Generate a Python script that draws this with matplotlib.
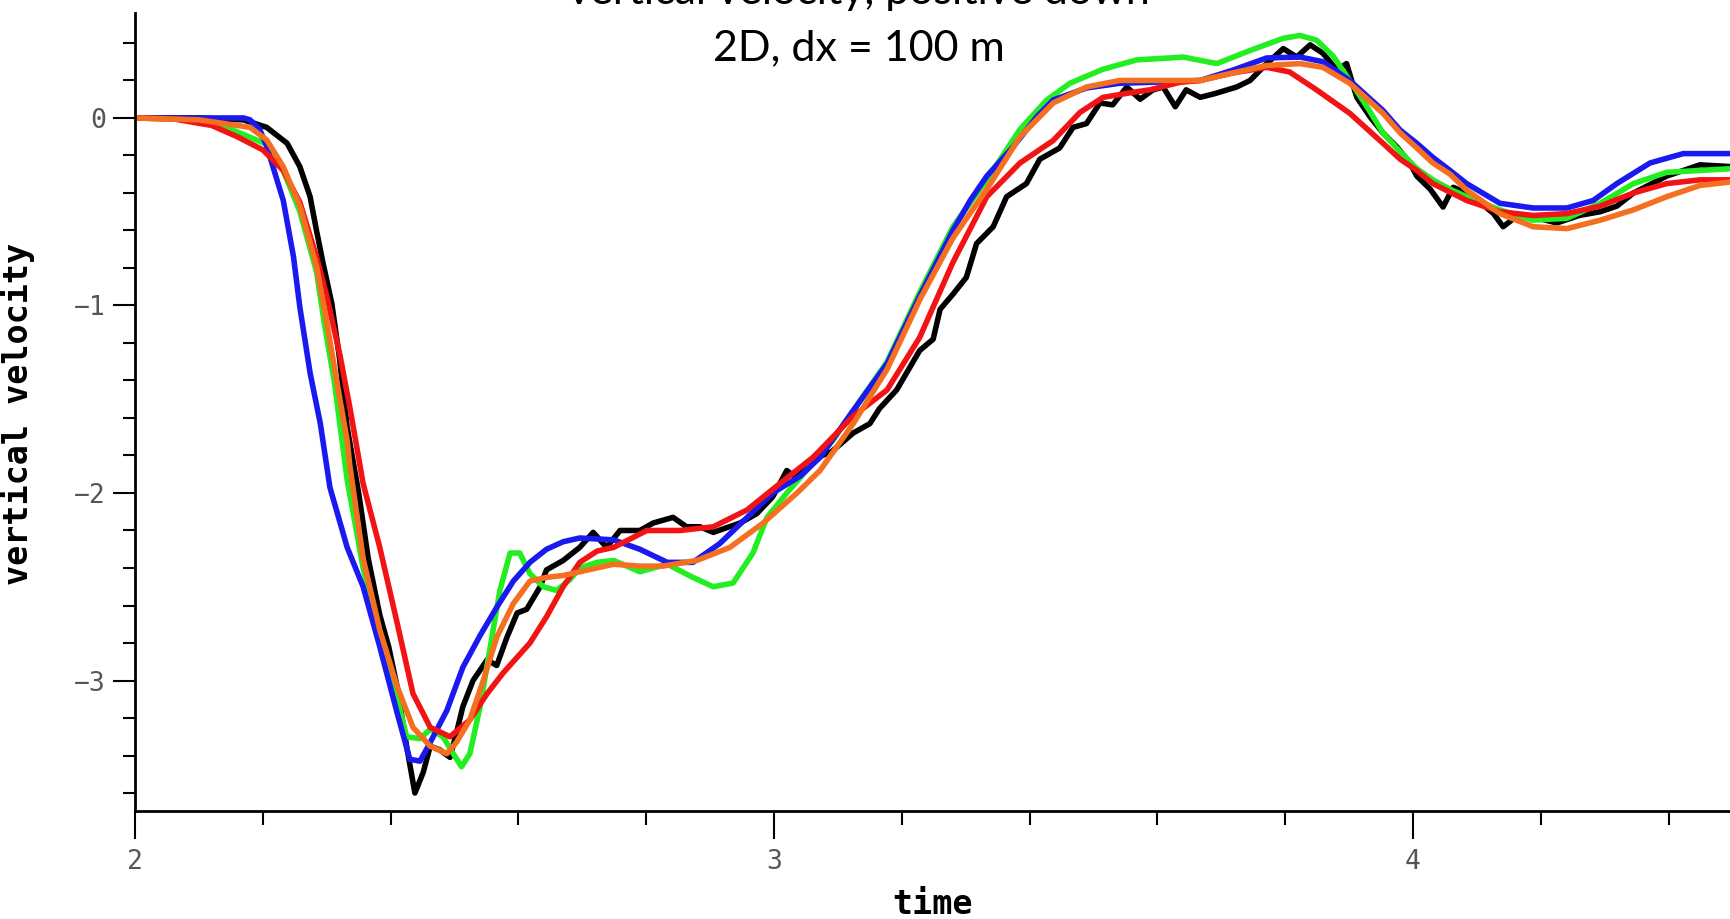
import matplotlib
matplotlib.use("Agg")
import matplotlib.pyplot as plt
from matplotlib.ticker import MultipleLocator

# black: reference (noisy)
t_black = [2.0, 2.10, 2.17, 2.206, 2.238, 2.258, 2.274, 2.284, 2.294, 2.308, 2.32, 2.332, 2.35, 2.365,
           2.383, 2.397, 2.41, 2.425, 2.438, 2.451, 2.462, 2.477, 2.493, 2.503, 2.513, 2.529, 2.551,
           2.566, 2.582, 2.598, 2.613, 2.634, 2.644, 2.670, 2.696, 2.717, 2.738, 2.759, 2.790, 2.811,
           2.842, 2.863, 2.884, 2.905, 2.947, 2.973, 2.998, 3.02, 3.035, 3.061, 3.09, 3.124, 3.150,
           3.165, 3.192, 3.228, 3.249, 3.260, 3.280, 3.301, 3.317, 3.343, 3.364, 3.395, 3.416, 3.447,
           3.468, 3.489, 3.510, 3.530, 3.552, 3.573, 3.593, 3.609, 3.628, 3.645, 3.667, 3.69, 3.724,
           3.745, 3.771, 3.797, 3.818, 3.839, 3.859, 3.881, 3.896, 3.912, 3.933, 3.953, 3.975, 3.995,
           4.006, 4.027, 4.047, 4.063, 4.084, 4.105, 4.126, 4.141, 4.162, 4.19, 4.225, 4.26, 4.293,
           4.319, 4.345, 4.397, 4.449, 4.5]
v_black = [0.0, 0.0, -0.01, -0.05, -0.135, -0.26, -0.42, -0.60, -0.77, -0.99, -1.28, -1.65, -2.0, -2.35,
           -2.65, -2.82, -3.03, -3.35, -3.60, -3.49, -3.35, -3.37, -3.41, -3.28, -3.14, -3.0, -2.89,
           -2.92, -2.77, -2.64, -2.62, -2.50, -2.41, -2.36, -2.29, -2.21, -2.29, -2.20, -2.20, -2.16,
           -2.13, -2.18, -2.18, -2.21, -2.16, -2.11, -2.02, -1.88, -1.92, -1.82, -1.78, -1.68, -1.63,
           -1.55, -1.45, -1.24, -1.18, -1.02, -0.94, -0.85, -0.67, -0.58, -0.42, -0.35, -0.22, -0.16,
           -0.05, -0.03, 0.08, 0.07, 0.165, 0.10, 0.15, 0.165, 0.06, 0.15, 0.11, 0.13, 0.165,
           0.20, 0.29, 0.37, 0.325, 0.39, 0.345, 0.255, 0.29, 0.11, 0.005, -0.08, -0.155, -0.24,
           -0.31, -0.38, -0.475, -0.37, -0.40, -0.45, -0.51, -0.58, -0.525, -0.53, -0.56, -0.52, -0.50,
           -0.47, -0.40, -0.31, -0.25, -0.26]

t_green = [2.0, 2.06, 2.12, 2.164, 2.206, 2.232, 2.258, 2.284, 2.296, 2.312, 2.324, 2.332, 2.357, 2.383,
           2.41, 2.425, 2.446, 2.462, 2.482, 2.498, 2.511, 2.524, 2.540, 2.556, 2.571, 2.587, 2.602,
           2.618, 2.639, 2.660, 2.681, 2.696, 2.723, 2.749, 2.79, 2.833, 2.873, 2.905, 2.936, 2.967,
           2.989, 3.02, 3.092, 3.124, 3.177, 3.228, 3.280, 3.333, 3.385, 3.427, 3.463, 3.515, 3.568,
           3.620, 3.640, 3.693, 3.745, 3.797, 3.823, 3.849, 3.875, 3.901, 3.928, 3.953, 3.980, 4.006,
           4.031, 4.058, 4.084, 4.136, 4.188, 4.241, 4.293, 4.345, 4.397, 4.5]
v_green = [0.0, -0.005, -0.02, -0.08, -0.14, -0.28, -0.50, -0.82, -1.09, -1.41, -1.72, -1.93, -2.40, -2.77,
           -3.09, -3.30, -3.31, -3.26, -3.30, -3.39, -3.46, -3.39, -3.14, -2.82, -2.52, -2.32, -2.32,
           -2.43, -2.50, -2.52, -2.46, -2.40, -2.37, -2.36, -2.42, -2.38, -2.45, -2.50, -2.48, -2.32,
           -2.13, -2.0, -1.72, -1.56, -1.30, -0.93, -0.58, -0.33, -0.06, 0.096, 0.185, 0.26, 0.31,
           0.32, 0.325, 0.29, 0.36, 0.425, 0.44, 0.415, 0.33, 0.20, 0.06, -0.08, -0.18, -0.27,
           -0.33, -0.38, -0.42, -0.49, -0.545, -0.535, -0.455, -0.35, -0.29, -0.27]

t_blue = [2.0, 2.17, 2.18, 2.195, 2.206, 2.232, 2.248, 2.258, 2.274, 2.29, 2.305, 2.332, 2.357, 2.383,
          2.41, 2.430, 2.446, 2.462, 2.488, 2.513, 2.540, 2.566, 2.592, 2.618, 2.644, 2.670, 2.696,
          2.749, 2.79, 2.833, 2.873, 2.915, 2.958, 2.998, 3.041, 3.072, 3.124, 3.177, 3.228, 3.280,
          3.307, 3.333, 3.374, 3.411, 3.437, 3.489, 3.541, 3.588, 3.667, 3.718, 3.771, 3.823, 3.859,
          3.901, 3.953, 3.98, 4.006, 4.031, 4.058, 4.084, 4.136, 4.188, 4.241, 4.282, 4.319, 4.371,
          4.423, 4.5]
v_blue = [0.0, 0.0, -0.01, -0.06, -0.15, -0.44, -0.74, -1.01, -1.36, -1.63, -1.97, -2.29, -2.50, -2.82,
          -3.17, -3.42, -3.43, -3.33, -3.16, -2.93, -2.76, -2.61, -2.47, -2.37, -2.30, -2.26, -2.24,
          -2.25, -2.30, -2.37, -2.37, -2.27, -2.13, -2.0, -1.91, -1.81, -1.56, -1.31, -0.95, -0.60,
          -0.44, -0.31, -0.155, 0.005, 0.096, 0.16, 0.185, 0.19, 0.20, 0.255, 0.32, 0.325, 0.30,
          0.20, 0.04, -0.065, -0.135, -0.21, -0.28, -0.35, -0.455, -0.48, -0.48, -0.44, -0.35, -0.24,
          -0.19, -0.19]

t_red = [2.0, 2.06, 2.12, 2.16, 2.2, 2.232, 2.258, 2.284, 2.30, 2.321, 2.336, 2.357, 2.383, 2.41,
         2.435, 2.462, 2.493, 2.524, 2.551, 2.576, 2.618, 2.644, 2.670, 2.696, 2.723, 2.749, 2.801,
         2.853, 2.905, 2.958, 3.009, 3.061, 3.124, 3.177, 3.228, 3.280, 3.333, 3.385, 3.437, 3.479,
         3.515, 3.568, 3.588, 3.635, 3.667, 3.718, 3.771, 3.807, 3.849, 3.901, 3.953, 3.98, 4.006,
         4.031, 4.084, 4.136, 4.188, 4.241, 4.293, 4.345, 4.397, 4.449, 4.5]
v_red = [0.0, -0.005, -0.04, -0.10, -0.17, -0.28, -0.45, -0.74, -0.95, -1.27, -1.54, -1.95, -2.29, -2.69,
         -3.07, -3.25, -3.30, -3.21, -3.07, -2.96, -2.80, -2.66, -2.50, -2.37, -2.31, -2.29, -2.20,
         -2.20, -2.18, -2.09, -1.95, -1.81, -1.59, -1.45, -1.17, -0.77, -0.42, -0.24, -0.12, 0.03,
         0.11, 0.14, 0.15, 0.19, 0.20, 0.24, 0.27, 0.245, 0.15, 0.025, -0.135, -0.22, -0.28,
         -0.35, -0.44, -0.50, -0.52, -0.51, -0.47, -0.40, -0.35, -0.33, -0.33]

t_orange = [2.0, 2.1, 2.18, 2.206, 2.232, 2.258, 2.284, 2.30, 2.316, 2.332, 2.336, 2.357, 2.383, 2.41,
            2.435, 2.462, 2.488, 2.503, 2.524, 2.545, 2.566, 2.592, 2.618, 2.644, 2.670, 2.696, 2.749,
            2.79, 2.826, 2.879, 2.931, 2.983, 3.036, 3.072, 3.124, 3.177, 3.228, 3.28, 3.333, 3.385,
            3.437, 3.489, 3.541, 3.588, 3.667, 3.718, 3.771, 3.823, 3.859, 3.901, 3.953, 3.98, 4.006,
            4.031, 4.058, 4.084, 4.136, 4.188, 4.241, 4.293, 4.345, 4.397, 4.449, 4.5]
v_orange = [0.0, -0.01, -0.05, -0.117, -0.26, -0.47, -0.79, -1.09, -1.41, -1.72, -1.85, -2.35, -2.73, -3.03,
            -3.25, -3.35, -3.39, -3.33, -3.21, -3.0, -2.77, -2.59, -2.47, -2.45, -2.44, -2.42, -2.38,
            -2.39, -2.39, -2.36, -2.29, -2.16, -2.0, -1.88, -1.63, -1.34, -0.97, -0.64, -0.38, -0.10,
            0.08, 0.165, 0.20, 0.20, 0.20, 0.24, 0.28, 0.29, 0.27, 0.185, 0.025, -0.08, -0.16,
            -0.24, -0.30, -0.385, -0.51, -0.58, -0.59, -0.545, -0.49, -0.42, -0.36, -0.34]

fig = plt.figure(figsize=(17.31, 9.19), dpi=100)
ax = fig.add_axes([0.078, 0.1175, 0.922, 0.8684])

lw = 4
style = dict(lw=lw, solid_joinstyle="round", solid_capstyle="round")
ax.plot(t_black, v_black, color="black", **style)
ax.plot(t_green, v_green, color="#22ee22", **style)
ax.plot(t_blue, v_blue, color="#1a1af0", **style)
ax.plot(t_red, v_red, color="#f21414", **style)
ax.plot(t_orange, v_orange, color="#f47020", **style)

ax.set_xlim(2, 2 + 1596 / 639)
ax.set_ylim(-3.696, 0.56)

ax.spines["top"].set_visible(False)
ax.spines["right"].set_visible(False)
ax.spines["left"].set_linewidth(2)
ax.spines["bottom"].set_linewidth(2)

ax.xaxis.set_major_locator(MultipleLocator(1))
ax.xaxis.set_minor_locator(MultipleLocator(0.2))
ax.yaxis.set_major_locator(MultipleLocator(1))
ax.yaxis.set_minor_locator(MultipleLocator(0.2))

ax.tick_params(axis="x", which="major", length=20, width=1.5, direction="out", pad=7)
ax.tick_params(axis="x", which="minor", length=10, width=1.5, direction="out")
ax.tick_params(axis="y", which="major", length=16, width=1.5, direction="out", pad=5)
ax.tick_params(axis="y", which="minor", length=9, width=1.5, direction="out")

for lab in ax.get_xticklabels() + ax.get_yticklabels():
    lab.set_fontfamily("DejaVu Sans Mono")
    lab.set_fontsize(19)
    lab.set_color("#555555")

ax.set_xlabel("time", fontfamily="DejaVu Sans Mono", fontweight="bold", fontsize=24)
ax.set_ylabel("vertical velocity", fontfamily="DejaVu Sans Mono", fontweight="bold", fontsize=24)
ax.xaxis.set_label_coords(0.4995, -0.0965)
ax.yaxis.set_label_coords(-0.0627, 0.497)

# first title line sits mostly above the top edge, as in the original export
fig.text(0.496, 1 - 4 / 919, "vertical velocity, positive down", ha="center", va="baseline",
         fontfamily="Lato", fontsize=31)
fig.text(0.496, 1 - 60 / 919, "2D, dx = 100 m", ha="center", va="baseline",
         fontfamily="Lato", fontsize=31)

fig.savefig("out.png", dpi=100)
